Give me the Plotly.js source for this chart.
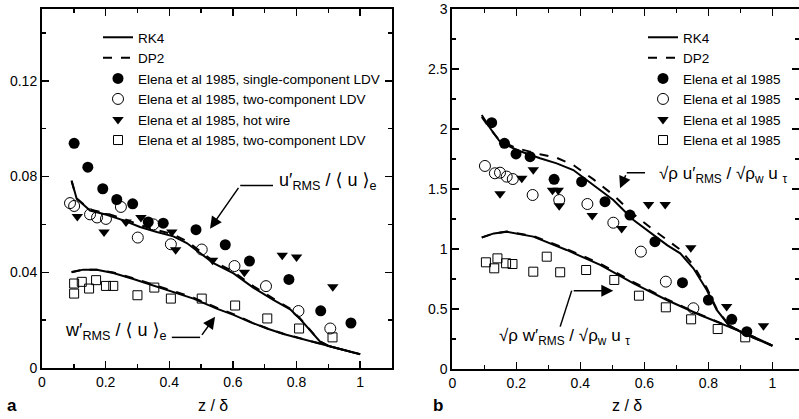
<!DOCTYPE html>
<html>
<head>
<meta charset="utf-8">
<script src="https://cdn.plot.ly/plotly-3.0.1.min.js"></script>
<style>html,body{margin:0;padding:0;background:#fff;}#chart{width:799px;height:419px;}</style>
</head>
<body>
<div id="chart"></div>
<script>
// ---------- Panel a : u'/<u>e and w'/<u>e ----------
const aRK4uX = [0.093,0.109,0.151,0.203,0.256,0.308,0.361,0.413,0.455,0.497,0.539,0.602,0.665,0.727,0.780,0.811,0.843,0.874,0.900,0.950,1.000];
const aRK4uY = [0.0783,0.0707,0.0658,0.0640,0.0617,0.0589,0.0568,0.0550,0.0522,0.0480,0.0438,0.0395,0.0335,0.0285,0.0245,0.0205,0.0155,0.0110,0.0092,0.0076,0.0058];
const aDP2uX = [0.093,0.109,0.151,0.203,0.256,0.308,0.361,0.413,0.455,0.497,0.539,0.602,0.665,0.727,0.780,0.811,0.843,0.874,0.900,0.950,1.000];
const aDP2uY = [0.0780,0.0708,0.0662,0.0646,0.0624,0.0597,0.0576,0.0558,0.0530,0.0487,0.0446,0.0402,0.0341,0.0290,0.0248,0.0207,0.0157,0.0111,0.0092,0.0076,0.0058];
const aRK4wX = [0.093,0.130,0.172,0.224,0.287,0.350,0.413,0.476,0.549,0.602,0.654,0.707,0.759,0.811,0.864,0.930,1.000];
const aRK4wY = [0.0401,0.0411,0.0410,0.0397,0.0372,0.0345,0.0318,0.0290,0.0248,0.0222,0.0192,0.0165,0.0142,0.0124,0.0106,0.0082,0.0057];
const aDP2wX = [0.093,0.130,0.172,0.224,0.287,0.350,0.413,0.476,0.549,0.602,0.654,0.707,0.759,0.811,0.864,0.930,1.000];
const aDP2wY = [0.0400,0.0411,0.0411,0.0399,0.0375,0.0348,0.0322,0.0294,0.0252,0.0225,0.0194,0.0166,0.0143,0.0124,0.0106,0.0082,0.0057];

const aFilledX = [0.101,0.144,0.191,0.235,0.285,0.334,0.381,0.484,0.576,0.652,0.776,0.876,0.971];
const aFilledY = [0.0939,0.0839,0.0749,0.0704,0.0686,0.0610,0.0605,0.0578,0.0515,0.0447,0.0370,0.0239,0.0188];
const aOpenX = [0.088,0.101,0.151,0.173,0.201,0.248,0.301,0.350,0.405,0.502,0.605,0.704,0.806,0.906];
const aOpenY = [0.0689,0.0677,0.0642,0.0629,0.0623,0.0673,0.0545,0.0600,0.0517,0.0495,0.0426,0.0342,0.0238,0.0165];
const aTriX = [0.111,0.195,0.264,0.311,0.408,0.420,0.536,0.636,0.755,0.800,0.914];
const aTriY = [0.0633,0.0568,0.0610,0.0629,0.0568,0.0494,0.0450,0.0400,0.0471,0.0464,0.0340];
const aSqX = [0.101,0.101,0.125,0.148,0.170,0.201,0.224,0.300,0.353,0.405,0.502,0.607,0.708,0.808,0.913];
const aSqY = [0.0353,0.0311,0.0360,0.0332,0.0367,0.0343,0.0343,0.0304,0.0336,0.0290,0.0290,0.0261,0.0207,0.0165,0.0128];

// ---------- Panel b : sqrt(rho) u'/sqrt(rho_w) u_tau ----------
const bRK4uX = [0.092,0.120,0.149,0.201,0.274,0.326,0.378,0.441,0.503,0.566,0.628,0.672,0.712,0.753,0.795,0.826,0.863,0.909,0.950,1.000];
const bRK4uY = [2.117,2.000,1.894,1.825,1.756,1.714,1.658,1.533,1.408,1.242,1.117,1.030,0.964,0.839,0.658,0.492,0.367,0.297,0.250,0.194];
const bDP2uX = [0.092,0.120,0.149,0.201,0.274,0.326,0.378,0.441,0.503,0.566,0.628,0.672,0.712,0.753,0.795,0.826,0.863,0.909,0.950,1.000];
const bDP2uY = [2.100,1.995,1.900,1.840,1.790,1.760,1.700,1.580,1.450,1.290,1.160,1.070,0.995,0.865,0.675,0.500,0.370,0.298,0.250,0.194];
const bRK4wX = [0.092,0.130,0.170,0.253,0.357,0.462,0.566,0.670,0.774,0.878,0.940,1.000];
const bRK4wY = [1.097,1.130,1.144,1.103,0.992,0.867,0.714,0.575,0.450,0.339,0.270,0.194];
const bDP2wX = [0.092,0.130,0.170,0.253,0.357,0.462,0.566,0.670,0.774,0.878,0.940,1.000];
const bDP2wY = [1.095,1.130,1.146,1.108,1.000,0.878,0.724,0.582,0.454,0.340,0.270,0.194];

const bFilledX = [0.123,0.163,0.199,0.243,0.318,0.404,0.477,0.555,0.633,0.719,0.800,0.873,0.920];
const bFilledY = [2.053,1.881,1.792,1.769,1.581,1.561,1.394,1.283,1.061,0.719,0.575,0.414,0.311];
const bOpenX = [0.102,0.133,0.149,0.170,0.189,0.251,0.334,0.422,0.503,0.589,0.667,0.753];
const bOpenY = [1.692,1.631,1.636,1.603,1.583,1.450,1.408,1.375,1.219,0.978,0.728,0.506];
const bTriX = [0.149,0.217,0.253,0.313,0.331,0.334,0.437,0.529,0.613,0.665,0.745,0.857,0.972];
const bTriY = [1.460,1.590,1.660,1.490,1.490,1.360,1.280,1.170,1.370,1.370,1.010,0.520,0.360];
const bSqX = [0.105,0.131,0.141,0.168,0.188,0.253,0.295,0.337,0.418,0.506,0.583,0.667,0.746,0.829,0.915];
const bSqY = [0.889,0.839,0.922,0.881,0.875,0.811,0.936,0.806,0.825,0.742,0.611,0.514,0.414,0.333,0.264];

const FONT = 'Liberation Sans, Arial, Helvetica, DejaVu Sans, sans-serif';
const lineStyle = {color:'black', width:2};
const dashStyle = {color:'black', width:2, dash:'dash'};
const mFilled = {symbol:'circle', size:11, color:'black'};
const mOpen = {symbol:'circle-open', size:11, color:'black', line:{width:1}};
const mTri = {symbol:'triangle-down', size:10, color:'black'};
const mSq = {symbol:'square-open', size:9, color:'black', line:{width:1}};

function tr(x,y,name,opts){ return Object.assign({x:x,y:y,name:name,type:'scatter'},opts); }

const traces = [
  tr(aRK4uX,aRK4uY,'RK4',{mode:'lines',line:lineStyle,xaxis:'x',yaxis:'y',legend:'legend'}),
  tr(aRK4wX,aRK4wY,'RK4',{mode:'lines',line:lineStyle,xaxis:'x',yaxis:'y',showlegend:false}),
  tr(aDP2uX,aDP2uY,'DP2',{mode:'lines',line:dashStyle,xaxis:'x',yaxis:'y',legend:'legend'}),
  tr(aDP2wX,aDP2wY,'DP2',{mode:'lines',line:dashStyle,xaxis:'x',yaxis:'y',showlegend:false}),
  tr(aFilledX,aFilledY,'Elena et al 1985, single-component LDV',{mode:'markers',marker:mFilled,xaxis:'x',yaxis:'y',legend:'legend'}),
  tr(aOpenX,aOpenY,'Elena et al 1985, two-component LDV',{mode:'markers',marker:mOpen,xaxis:'x',yaxis:'y',legend:'legend'}),
  tr(aTriX,aTriY,'Elena et al 1985, hot wire',{mode:'markers',marker:mTri,xaxis:'x',yaxis:'y',legend:'legend'}),
  tr(aSqX,aSqY,'Elena et al 1985, two-component LDV',{mode:'markers',marker:mSq,xaxis:'x',yaxis:'y',legend:'legend'}),

  tr(bRK4uX,bRK4uY,'RK4',{mode:'lines',line:lineStyle,xaxis:'x2',yaxis:'y2',legend:'legend2'}),
  tr(bRK4wX,bRK4wY,'RK4',{mode:'lines',line:lineStyle,xaxis:'x2',yaxis:'y2',showlegend:false}),
  tr(bDP2uX,bDP2uY,'DP2',{mode:'lines',line:dashStyle,xaxis:'x2',yaxis:'y2',legend:'legend2'}),
  tr(bDP2wX,bDP2wY,'DP2',{mode:'lines',line:dashStyle,xaxis:'x2',yaxis:'y2',showlegend:false}),
  tr(bFilledX,bFilledY,'Elena et al 1985',{mode:'markers',marker:mFilled,xaxis:'x2',yaxis:'y2',legend:'legend2'}),
  tr(bOpenX,bOpenY,'Elena et al 1985',{mode:'markers',marker:mOpen,xaxis:'x2',yaxis:'y2',legend:'legend2'}),
  tr(bTriX,bTriY,'Elena et al 1985',{mode:'markers',marker:mTri,xaxis:'x2',yaxis:'y2',legend:'legend2'}),
  tr(bSqX,bSqY,'Elena et al 1985',{mode:'markers',marker:mSq,xaxis:'x2',yaxis:'y2',legend:'legend2'})
];

function axis(extra){
  return Object.assign({
    showgrid:false, zeroline:false, showline:true, linecolor:'black', linewidth:2,
    mirror:'ticks', ticks:'inside', ticklen:7, tickwidth:1.5, tickcolor:'black',
    tickfont:{family:FONT,size:14,color:'black'}
  }, extra);
}

const W = 799, H = 419;
const px = v => v/W, py = v => 1 - v/H;

const legendCommon = {font:{family:FONT,size:13.5,color:'black'}, bgcolor:'rgba(0,0,0,0)', borderwidth:0, tracegroupgap:0, xanchor:'left', yanchor:'top'};

const layout = {
  width:W, height:H, margin:{l:0,r:0,t:0,b:0},
  paper_bgcolor:'white', plot_bgcolor:'white',
  font:{family:FONT,color:'black'},
  xaxis: axis({domain:[px(42),px(392)], range:[0,1.1], tickvals:[0,0.2,0.4,0.6,0.8,1], ticktext:['0','0.2','0.4','0.6','0.8','1'], minor:{dtick:0.1, tick0:0, ticks:'inside', ticklen:4, tickcolor:'black'}, anchor:'y'}),
  yaxis: axis({domain:[1-368/H,1-9/H], range:[0,0.15], tickvals:[0,0.04,0.08,0.12], ticktext:['0','0.04','0.08','0.12'], minor:{dtick:0.02, tick0:0, ticks:'inside', ticklen:4, tickcolor:'black'}, anchor:'x'}),
  xaxis2: axis({domain:[px(452.3),1], range:[0,1.083], tickvals:[0,0.2,0.4,0.6,0.8,1], ticktext:['0','0.2','0.4','0.6','0.8','1'], minor:{dtick:0.1, tick0:0, ticks:'inside', ticklen:4, tickcolor:'black'}, anchor:'y2'}),
  yaxis2: axis({domain:[1-369/H,1-9/H], range:[0,3], tickvals:[0,0.5,1,1.5,2,2.5,3], ticktext:['0','0.5','1','1.5','2','2.5','3'], minor:{dtick:0.25, tick0:0, ticks:'inside', ticklen:4, tickcolor:'black'}, anchor:'x2'}),
  legend: Object.assign({x:px(98), y:py(22)}, legendCommon),
  legend2: Object.assign({x:px(643), y:py(22)}, legendCommon),
  shapes: [
    {type:'line', xref:'x', yref:'y', x0:0.623, y0:0.0763, x1:0.726, y1:0.0763, line:{color:'black',width:1.5}},
    {type:'line', xref:'x', yref:'y', x0:0.408, y0:0.0128, x1:0.497, y1:0.0128, line:{color:'black',width:1.5}},
    {type:'line', xref:'x2', yref:'y2', x0:0.545, y0:1.636, x1:0.602, y1:1.636, line:{color:'black',width:1.5}},
    {type:'line', xref:'x2', yref:'y2', x0:0.337, y0:0.353, x1:0.373, y1:0.653, line:{color:'black',width:1.5}}
  ],
  annotations: [
    // arrows
    {xref:'x', yref:'y', axref:'x', ayref:'y', x:0.528, y:0.0582, ax:0.623, ay:0.0763, text:' ', showarrow:true, arrowhead:2, arrowsize:1.6, arrowwidth:1.5, arrowcolor:'black', font:{size:2}},
    {xref:'x', yref:'y', axref:'x', ayref:'y', x:0.544, y:0.0214, ax:0.497, ay:0.0128, text:' ', showarrow:true, arrowhead:2, arrowsize:1.6, arrowwidth:1.5, arrowcolor:'black', font:{size:2}},
    {xref:'x2', yref:'y2', axref:'x2', ayref:'y2', x:0.524, y:1.506, ax:0.545, ay:1.636, text:' ', showarrow:true, arrowhead:2, arrowsize:1.6, arrowwidth:1.5, arrowcolor:'black', font:{size:2}},
    {xref:'x2', yref:'y2', axref:'x2', ayref:'y2', x:0.503, y:0.653, ax:0.373, ay:0.653, text:' ', showarrow:true, arrowhead:2, arrowsize:1.6, arrowwidth:1.5, arrowcolor:'black', font:{size:2}},
    // labels
    {xref:'x', yref:'y', x:0.738, y:0.0780, xanchor:'left', yanchor:'middle', showarrow:false, text:'u′<sub>RMS</sub> / ⟨ u ⟩<sub>e</sub>', font:{family:FONT,size:18,color:'black'}},
    {xref:'x', yref:'y', x:0.396, y:0.0154, xanchor:'right', yanchor:'middle', showarrow:false, text:'w′<sub>RMS</sub> / ⟨ u ⟩<sub>e</sub>', font:{family:FONT,size:18,color:'black'}},
    {xref:'x2', yref:'y2', x:0.639, y:1.617, xanchor:'left', yanchor:'middle', showarrow:false, text:'√ρ u′<sub>RMS</sub> / √ρ<sub>w</sub> u <sub>τ</sub>', font:{family:FONT,size:17,color:'black'}},
    {xref:'x2', yref:'y2', x:0.139, y:0.270, xanchor:'left', yanchor:'middle', showarrow:false, text:'√ρ w′<sub>RMS</sub> / √ρ<sub>w</sub> u <sub>τ</sub>', font:{family:FONT,size:17,color:'black'}},
    // panel letters & axis titles
    {xref:'paper', yref:'paper', x:px(12), y:py(405), xanchor:'center', yanchor:'middle', showarrow:false, text:'<b>a</b>', font:{family:FONT,size:17,color:'black'}},
    {xref:'paper', yref:'paper', x:px(438), y:py(405), xanchor:'center', yanchor:'middle', showarrow:false, text:'<b>b</b>', font:{family:FONT,size:17,color:'black'}},
    {xref:'paper', yref:'paper', x:px(213), y:py(405), xanchor:'center', yanchor:'middle', showarrow:false, text:'z / δ', font:{family:FONT,size:16,color:'black'}},
    {xref:'paper', yref:'paper', x:px(627), y:py(405), xanchor:'center', yanchor:'middle', showarrow:false, text:'z / δ', font:{family:FONT,size:16,color:'black'}}
  ]
};

Plotly.newPlot('chart', traces, layout, {displayModeBar:false, staticPlot:true});
</script>
</body>
</html>
